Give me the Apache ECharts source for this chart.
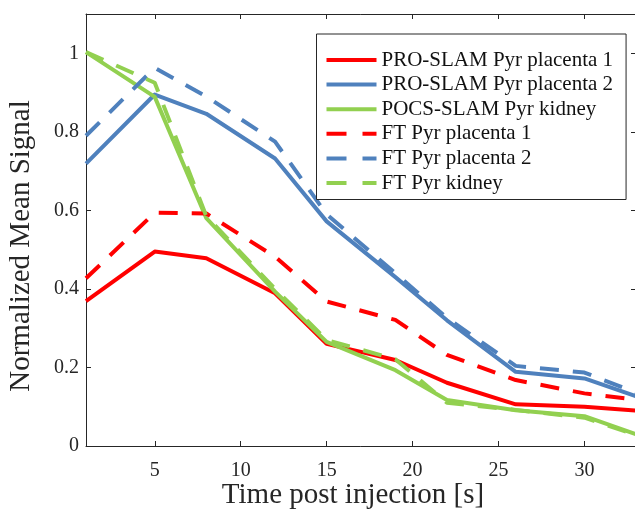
<!DOCTYPE html>
<html>
<head>
<meta charset="utf-8">
<script src="https://cdn.jsdelivr.net/npm/echarts@6/dist/echarts.min.js"></script>
<style>
  html, body { margin: 0; padding: 0; background: #fff; overflow: hidden; }
  #chart { width: 635px; height: 509px; }
</style>
</head>
<body>
<div id="chart"></div>
<script>
// Sampling times [s]
const times = [1, 5, 8, 12, 15, 19, 22, 26, 30, 33];

// Normalized mean signal per acquisition
const proSlamPlacenta1 = [0.369, 0.495, 0.478, 0.389, 0.260, 0.219, 0.161, 0.106, 0.100, 0.090];
const proSlamPlacenta2 = [0.719, 0.895, 0.846, 0.732, 0.572, 0.430, 0.320, 0.189, 0.172, 0.127];
const pocsSlamKidney   = [1.003, 0.889, 0.580, 0.393, 0.265, 0.193, 0.117, 0.091, 0.076, 0.030];
const ftPlacenta1      = [0.427, 0.594, 0.592, 0.482, 0.368, 0.321, 0.232, 0.168, 0.134, 0.118];
const ftPlacenta2      = [0.790, 0.963, 0.890, 0.775, 0.590, 0.440, 0.326, 0.204, 0.187, 0.136];
const ftKidney         = [1.003, 0.925, 0.585, 0.400, 0.270, 0.221, 0.110, 0.092, 0.072, 0.028];

const xTicks = [5, 10, 15, 20, 25, 30];
const yTicks = [0, 0.2, 0.4, 0.6, 0.8, 1];

const RED = '#ff0000', BLUE = '#4f81bd', GREEN = '#92d050';
const FONT = '"Liberation Serif", "Times New Roman", serif';
const AXIS = '#262626';

// Legend glyphs: a solid bar and a broken bar
const SOLID_ICON = 'path://M0,0H50V4H0Z';
const DASH_ICON = 'path://M0,0H20V4H0Z M36,0H50V4H36Z';

function pairs(ys) { return times.map((t, i) => [t, ys[i]]); }

function line(name, ys, color, dashed) {
  return {
    name, type: 'line', data: pairs(ys), symbol: 'none', silent: true,
    xAxisIndex: 0, yAxisIndex: 0,
    lineStyle: { color, width: 4, type: dashed ? [19, 14] : 'solid', cap: 'butt', join: 'round' },
    itemStyle: { color }
  };
}

function xAxisDef(pos, labels) {
  return {
    type: 'value', position: pos, min: 1, max: 33,
    axisLine: { show: true, onZero: false, lineStyle: { color: AXIS, width: 1 } },
    axisTick: { show: true, inside: true, length: 5, customValues: xTicks, lineStyle: { color: AXIS } },
    axisLabel: labels ? { show: true, customValues: xTicks, margin: 15, fontFamily: FONT, fontSize: 20, color: '#262626' } : { show: false },
    splitLine: { show: false },
    name: labels ? 'Time post injection [s]' : '',
    nameLocation: 'middle', nameGap: 35, nameMoveOverlap: false,
    nameTextStyle: { fontFamily: FONT, fontSize: 29, color: '#262626', padding: [0, 16, 0, 0] }
  };
}

function yAxisDef(pos, labels) {
  return {
    type: 'value', position: pos, min: 0, max: 1.1,
    axisLine: { show: true, onZero: false, lineStyle: { color: AXIS, width: 1 } },
    axisTick: { show: true, inside: true, length: 5, customValues: yTicks, lineStyle: { color: AXIS } },
    axisLabel: labels ? { show: true, customValues: yTicks, margin: 7, fontFamily: FONT, fontSize: 20, color: '#262626' } : { show: false },
    splitLine: { show: false },
    name: labels ? 'Normalized Mean Signal' : '',
    nameLocation: 'middle', nameGap: 50, nameMoveOverlap: false,
    nameTextStyle: { fontFamily: FONT, fontSize: 29, color: '#262626', padding: [0, 32, 0, 0] }
  };
}

const legendNames = ['PRO-SLAM Pyr placenta 1', 'PRO-SLAM Pyr placenta 2', 'POCS-SLAM Pyr kidney',
                     'FT Pyr placenta 1', 'FT Pyr placenta 2', 'FT Pyr kidney'];

const chart = echarts.init(document.getElementById('chart'), null, { renderer: 'canvas' });
chart.setOption({
  animation: false,
  backgroundColor: '#fff',
  grid: { left: 86, right: -1, top: 14, bottom: 63, containLabel: false, outerBoundsMode: 'none' },
  xAxis: [xAxisDef('bottom', true), xAxisDef('top', false)],
  yAxis: [yAxisDef('left', true), yAxisDef('right', false)],
  legend: {
    orient: 'vertical', left: 316.5, top: 34,
    padding: [15.5, 13, 6, 10],
    itemGap: 3.6, itemWidth: 50, itemHeight: 4,
    backgroundColor: '#fff', borderColor: '#262626', borderWidth: 1, borderRadius: 0,
    textStyle: { fontFamily: FONT, fontSize: 21, lineHeight: 21, color: '#111' },
    data: legendNames.map((n, i) => ({ name: n, icon: i < 3 ? SOLID_ICON : DASH_ICON }))
  },
  series: [
    line(legendNames[0], proSlamPlacenta1, RED, false),
    line(legendNames[1], proSlamPlacenta2, BLUE, false),
    line(legendNames[2], pocsSlamKidney, GREEN, false),
    line(legendNames[3], ftPlacenta1, RED, true),
    line(legendNames[4], ftPlacenta2, BLUE, true),
    line(legendNames[5], ftKidney, GREEN, true)
  ]
});
</script>
</body>
</html>
